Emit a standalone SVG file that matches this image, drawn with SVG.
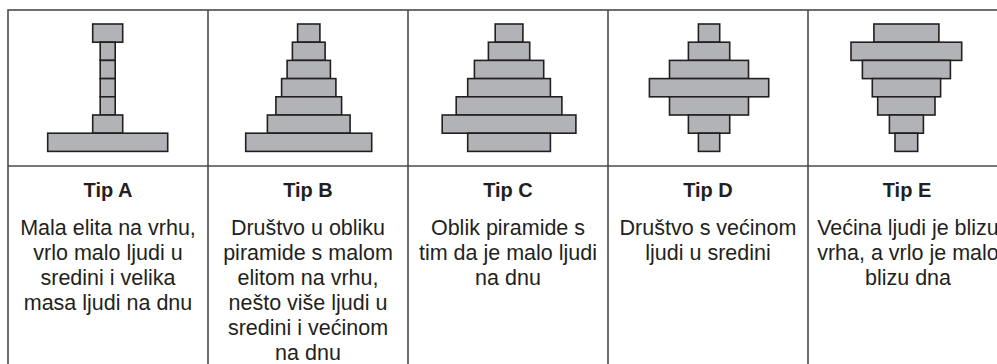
<svg xmlns="http://www.w3.org/2000/svg" width="997" height="364" viewBox="0 0 997 364">
<style>
.grid{fill:none;stroke:#4a4a4a;stroke-width:1.6}
.blk{fill:#b2b3b7;stroke:#231f20;stroke-width:1.6}
.t{font-family:"Liberation Sans",Arial,Helvetica,sans-serif;font-weight:bold;font-size:20px;fill:#231f20;text-anchor:middle}
.b{font-family:"Liberation Sans",Arial,Helvetica,sans-serif;font-size:21.5px;fill:#231f20;text-anchor:middle}
</style>
<rect width="997" height="364" fill="#ffffff"/>
<g id="table">
<rect class="grid" x="8" y="10" width="1000" height="380"/>
<line class="grid" x1="8" y1="166" x2="1008" y2="166"/>
<line class="grid" x1="208" y1="10" x2="208" y2="390"/>
<line class="grid" x1="408" y1="10" x2="408" y2="390"/>
<line class="grid" x1="608" y1="10" x2="608" y2="390"/>
<line class="grid" x1="808" y1="10" x2="808" y2="390"/>
</g>
<g id="tipA">
<rect class="blk" x="92.7" y="24" width="30" height="18.2"/>
<rect class="blk" x="100.2" y="42.2" width="15" height="18.2"/>
<rect class="blk" x="100.2" y="60.4" width="15" height="18.2"/>
<rect class="blk" x="100.2" y="78.6" width="15" height="18.2"/>
<rect class="blk" x="100.2" y="96.8" width="15" height="18.2"/>
<rect class="blk" x="92.7" y="115" width="30" height="18.2"/>
<rect class="blk" x="47.7" y="133.2" width="120" height="18.2"/>
<text class="t" x="108" y="197">Tip A</text>
<text class="b" x="108" y="235">Mala elita na vrhu,</text>
<text class="b" x="108" y="260">vrlo malo ljudi u</text>
<text class="b" x="108" y="285">sredini i velika</text>
<text class="b" x="108" y="310">masa ljudi na dnu</text>
</g>
<g id="tipB">
<rect class="blk" x="297.6" y="24" width="22.3" height="18.2"/>
<rect class="blk" x="292.4" y="42.2" width="32.7" height="18.2"/>
<rect class="blk" x="287.1" y="60.4" width="43.3" height="18.2"/>
<rect class="blk" x="281.6" y="78.6" width="54.3" height="18.2"/>
<rect class="blk" x="275.9" y="96.8" width="65.7" height="18.2"/>
<rect class="blk" x="267.4" y="115" width="82.7" height="18.2"/>
<rect class="blk" x="245.7" y="133.2" width="126" height="18.2"/>
<text class="t" x="308" y="197">Tip B</text>
<text class="b" x="308" y="235">Društvo u obliku</text>
<text class="b" x="308" y="260">piramide s malom</text>
<text class="b" x="308" y="285">elitom na vrhu,</text>
<text class="b" x="308" y="310">nešto više ljudi u</text>
<text class="b" x="308" y="335">sredini i većinom</text>
<text class="b" x="308" y="360">na dnu</text>
</g>
<g id="tipC">
<rect class="blk" x="495.2" y="24" width="27.7" height="18.2"/>
<rect class="blk" x="488.4" y="42.2" width="41.3" height="18.2"/>
<rect class="blk" x="474.4" y="60.4" width="69.3" height="18.2"/>
<rect class="blk" x="467.7" y="78.6" width="82.7" height="18.2"/>
<rect class="blk" x="456.2" y="96.8" width="105.7" height="18.2"/>
<rect class="blk" x="442.2" y="115" width="133.7" height="18.2"/>
<rect class="blk" x="467.7" y="133.2" width="82.7" height="18.2"/>
<text class="t" x="508" y="197">Tip C</text>
<text class="b" x="508" y="235">Oblik piramide s</text>
<text class="b" x="508" y="260">tim da je malo ljudi</text>
<text class="b" x="508" y="285">na dnu</text>
</g>
<g id="tipD">
<rect class="blk" x="698.4" y="24" width="21.3" height="18.2"/>
<rect class="blk" x="688.4" y="42.2" width="41.3" height="18.2"/>
<rect class="blk" x="669.5" y="60.4" width="79" height="18.2"/>
<rect class="blk" x="649.4" y="78.6" width="119.3" height="18.2"/>
<rect class="blk" x="669.5" y="96.8" width="79" height="18.2"/>
<rect class="blk" x="688.4" y="115" width="41.3" height="18.2"/>
<rect class="blk" x="698.4" y="133.2" width="21.3" height="18.2"/>
<text class="t" x="708" y="197">Tip D</text>
<text class="b" x="708" y="235">Društvo s većinom</text>
<text class="b" x="708" y="260">ljudi u sredini</text>
</g>
<g id="tipE">
<rect class="blk" x="873.9" y="24" width="65" height="18.2"/>
<rect class="blk" x="851" y="42.2" width="110.7" height="18.2"/>
<rect class="blk" x="862.4" y="60.4" width="88" height="18.2"/>
<rect class="blk" x="872.3" y="78.6" width="68.3" height="18.2"/>
<rect class="blk" x="877.7" y="96.8" width="57.3" height="18.2"/>
<rect class="blk" x="889.4" y="115" width="34" height="18.2"/>
<rect class="blk" x="895" y="133.2" width="22.7" height="18.2"/>
<text class="t" x="907" y="197">Tip E</text>
<text class="b" x="908" y="235">Većina ljudi je blizu</text>
<text class="b" x="908" y="260">vrha, a vrlo je malo</text>
<text class="b" x="908" y="285">blizu dna</text>
</g>
</svg>
